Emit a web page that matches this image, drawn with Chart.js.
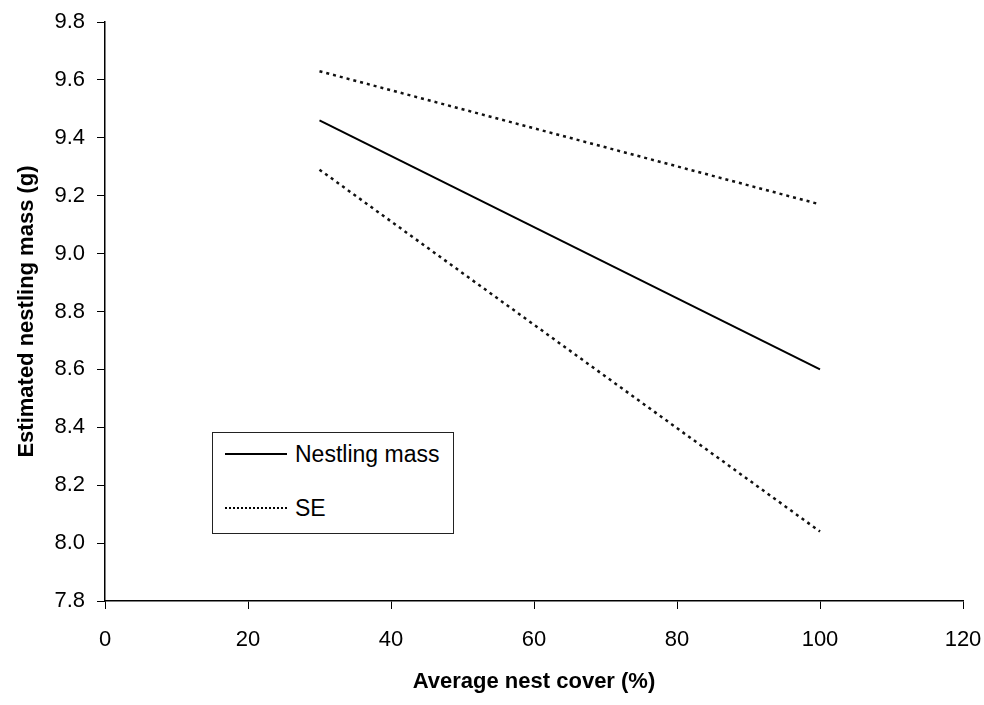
<!DOCTYPE html>
<html>
<head>
<meta charset="utf-8">
<script src="https://cdn.jsdelivr.net/npm/chart.js@4/dist/chart.umd.min.js"></script>
<style>
    html, body { margin: 0; padding: 0; background: #fff; }
    #wrap { position: relative; width: 984px; height: 705px; }
    #legend {
        position: absolute; left: 212px; top: 432px; width: 240px; height: 100px;
        border: 1px solid #222; background: #fff;
        font-family: 'Liberation Sans', Arial, sans-serif; font-size: 23px; color: #000;
    }
    .row { position: absolute; left: 12px; display: flex; align-items: center; white-space: nowrap; line-height: 24px; }
    .swatch { width: 62px; height: 0; margin-right: 8px; }
</style>
</head>
<body>
<div id="wrap">
    <canvas id="chart" width="984" height="705"></canvas>
    <div id="legend">
        <div class="row" style="top:9px"><span class="swatch" style="border-top:2px solid #000"></span>Nestling mass</div>
        <div class="row" style="top:63px"><span class="swatch" style="border-top:2px dotted #000"></span>SE</div>
    </div>
</div>
<script>
// values
const coverX = [30, 100]
const massY = [9.46, 8.60]
const seUpperY = [9.63, 9.17]
const seLowerY = [9.29, 8.04]
const xTicks = [0, 20, 40, 60, 80, 100, 120]
const yTicks = [7.8, 8.0, 8.2, 8.4, 8.6, 8.8, 9.0, 9.2, 9.4, 9.6, 9.8]

function toPoints(xs, ys) {
    return xs.map((x, i) => ({ x: x, y: ys[i] }))
}

const font = { family: "'Liberation Sans', Arial, sans-serif", size: 22 }
const titleFont = { family: "'Liberation Sans', Arial, sans-serif", size: 22, weight: 'bold' }

new Chart(document.getElementById('chart').getContext('2d'), {
    type: 'scatter',
    data: {
        datasets: [
            { label: 'Nestling mass', data: toPoints(coverX, massY), showLine: true,
              borderColor: '#000', borderWidth: 2, pointRadius: 0 },
            { label: 'SE', data: toPoints(coverX, seUpperY), showLine: true,
              borderColor: '#111', borderWidth: 2.5, borderDash: [3, 4], pointRadius: 0 },
            { label: 'SE', data: toPoints(coverX, seLowerY), showLine: true,
              borderColor: '#111', borderWidth: 2.5, borderDash: [3, 4], pointRadius: 0 },
        ],
    },
    options: {
        responsive: false,
        animation: false,
        layout: { padding: { top: 22, right: 21, left: 8, bottom: 0 } },
        plugins: { legend: { display: false }, tooltip: { enabled: false } },
        scales: {
            x: {
                type: 'linear', min: 0, max: 120,
                afterBuildTicks: (axis) => { axis.ticks = xTicks.map(v => ({ value: v })) },
                afterFit: (axis) => { axis.height = 104; axis.paddingRight = 0; axis.paddingLeft = 0 },
                grid: { drawOnChartArea: false, drawTicks: true, tickLength: 8, color: '#000' },
                border: { color: '#000', width: 1.5 },
                ticks: { color: '#000', font: font, padding: 18 },
                title: { display: true, text: 'Average nest cover (%)', color: '#000', font: titleFont,
                         padding: { top: 4, bottom: 10 } },
            },
            y: {
                type: 'linear', min: 7.8, max: 9.8,
                afterBuildTicks: (axis) => { axis.ticks = yTicks.map(v => ({ value: v })) },
                afterFit: (axis) => { axis.width = 97; axis.paddingTop = 0; axis.paddingBottom = 0 },
                grid: { drawOnChartArea: false, drawTicks: true, tickLength: 8, color: '#000' },
                border: { color: '#000', width: 1.5 },
                ticks: { color: '#000', font: font, padding: 12, callback: (v) => Number(v).toFixed(1) },
                title: { display: true, text: 'Estimated nestling mass (g)', color: '#000', font: titleFont,
                         padding: { top: 6, bottom: 10 } },
            },
        },
    },
})
</script>
</body>
</html>
